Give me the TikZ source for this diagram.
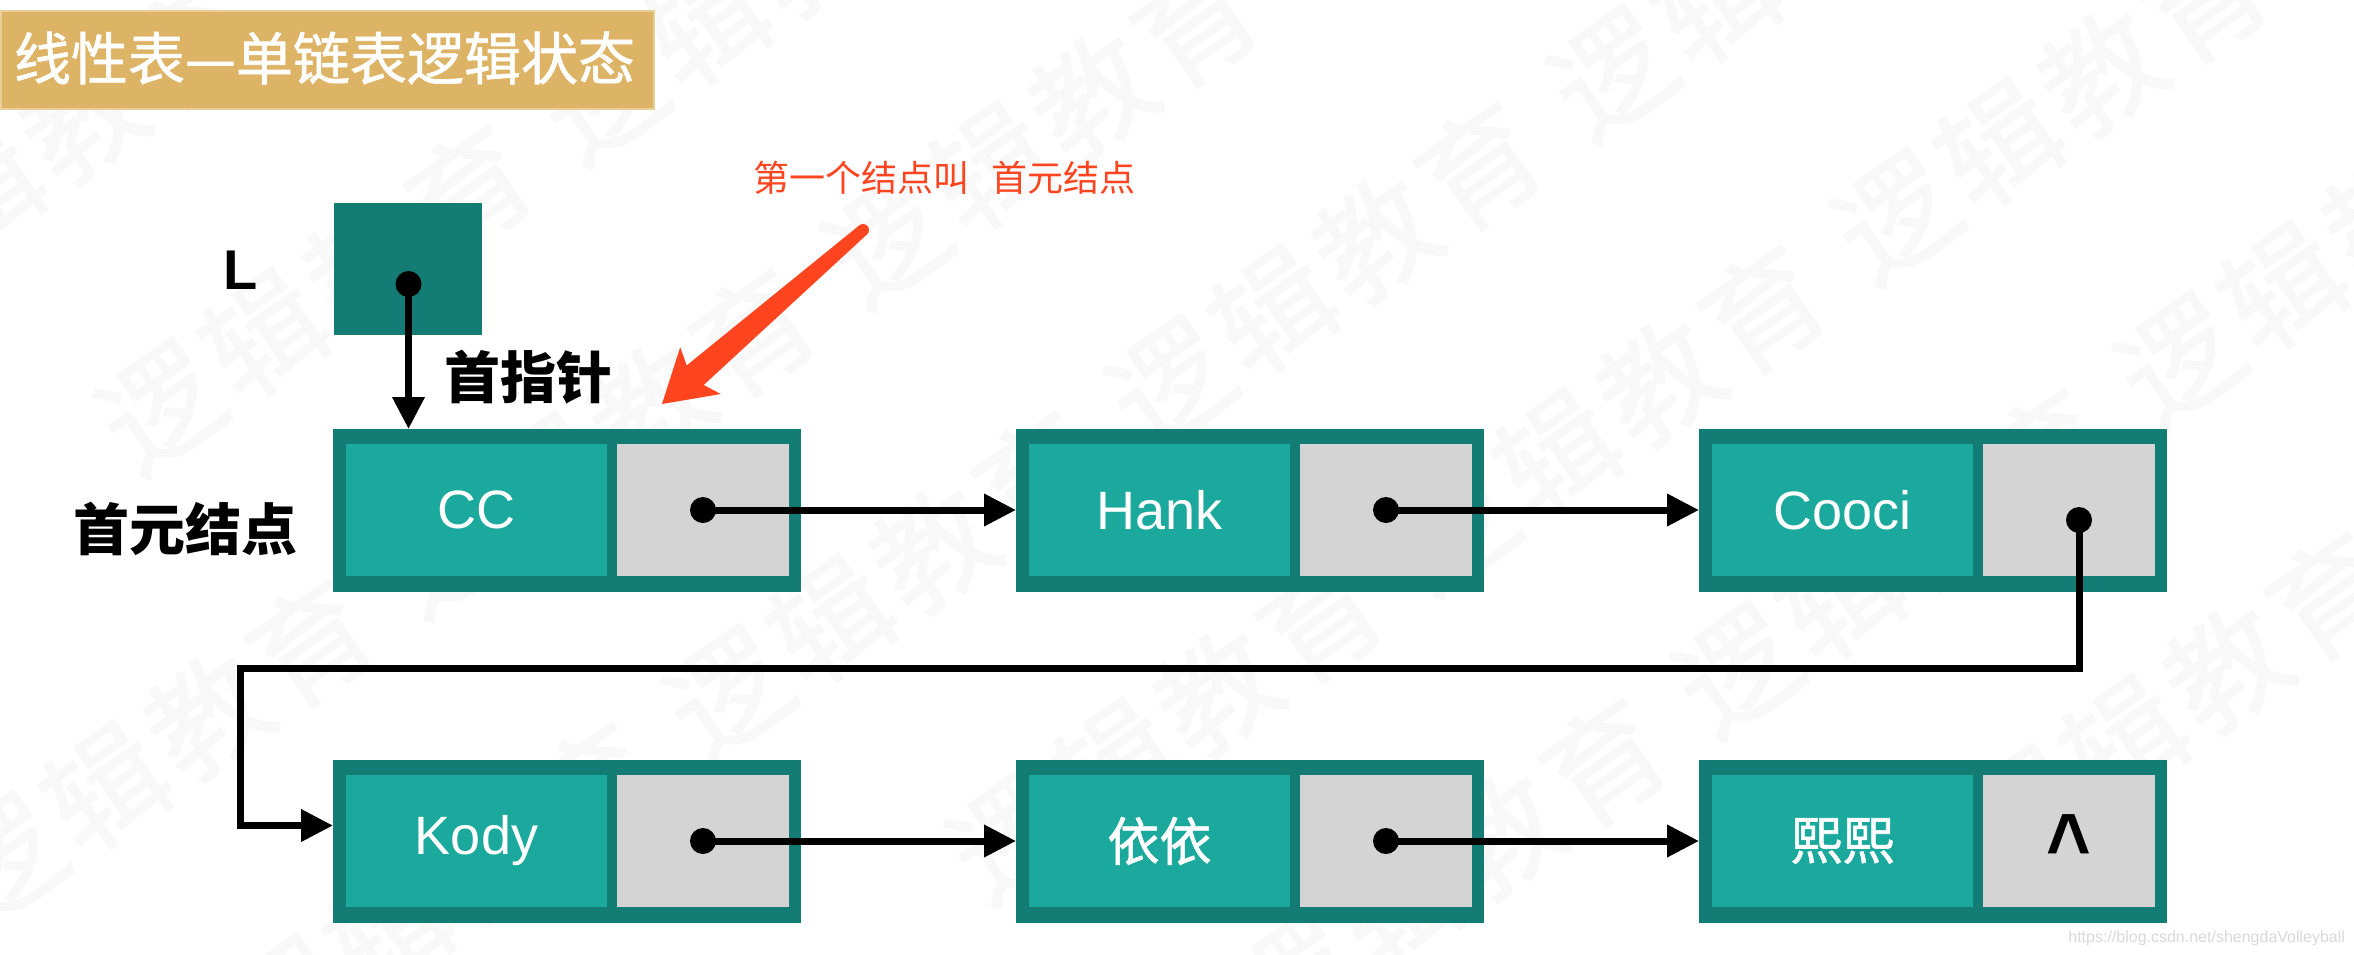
\documentclass[tikz,border=0pt]{standalone}
\usepackage{fontspec}
\setmainfont{Liberation Sans}
\newfontfamily\cjk{Noto Sans CJK SC}
\newfontfamily\cjkm[FakeBold=1.2]{Noto Sans CJK SC}
\usetikzlibrary{arrows.meta,calc}
\definecolor{dteal}{HTML}{137C74}
\definecolor{lteal}{HTML}{1AA99C}
\definecolor{cellgray}{HTML}{D4D4D4}
\definecolor{gold}{HTML}{DDB366}
\definecolor{goldedge}{HTML}{E9CE98}
\definecolor{redann}{HTML}{FF4520}
\definecolor{wmark}{HTML}{F8F8F8}
\newcommand\fs[1]{\fontsize{#1}{#1}\selectfont}
\newcommand\mkcell[4]{%
  \node[outerbox] (#1) at (#2,#3) {};
  \node[databox] (#1d) at (#2+13,#3+15) {#4};
  \node[ptrbox] (#1p) at (#2+284,#3+15) {};
}
\begin{document}
\begin{tikzpicture}[x=1pt,y=-1pt,
  outerbox/.style={fill=dteal, draw=none, anchor=north west, minimum width=468pt, minimum height=163pt, inner sep=0pt, outer sep=0pt},
  databox/.style={fill=lteal, anchor=north west, minimum width=261pt, minimum height=132pt, inner sep=0pt, outer sep=0pt, text=white, font=\fs{54}},
  ptrbox/.style={fill=cellgray, anchor=north west, minimum width=172pt, minimum height=132pt, inner sep=0pt, outer sep=0pt},
  conn/.style={line width=7pt, -{Triangle[length=32pt,width=31pt]}},
  dotmark/.style={circle, fill=black, minimum size=26pt, inner sep=0pt, outer sep=0pt},
  lab/.style={inner sep=0pt, outer sep=0pt}]
\useasboundingbox (0,0) rectangle (2354,954);
\fill[white] (0,0) rectangle (2354,954);
% watermark
\begin{scope}
\clip (0,0) rectangle (2354,954);
\foreach \j in {-4,...,4}{
  \foreach \i in {-5,...,5}{
    \pgfmathsetmacro\wx{2050+\i*540*0.819+\j*(280*0.574+150*0.819)}
    \pgfmathsetmacro\wy{108-\i*540*0.574+\j*(280*0.819-150*0.574)}
    \pgfmathtruncatemacro\inside{and(and(\wx>-40,\wx<2394),and(\wy>-40,\wy<994))}
    \ifnum\inside=1
      \node[lab, rotate=35, text=wmark, font=\cjkm\fs{118}] (wm\i\j) at (\wx,\wy) {逻\hspace{8pt}辑\hspace{8pt}教\hspace{8pt}育};
    \fi
  }
}
\end{scope}
% title banner
\node[fill=gold, draw=goldedge, line width=2pt, anchor=north west, minimum width=653pt, minimum height=98pt, inner sep=0pt] (banner) at (0,10) {};
\node[lab, anchor=west, text=white, font=\cjkm\fs{57}] (title) at (14,58) {线性表—单链表逻辑状态};
% head pointer
\node[fill=dteal, anchor=north west, minimum width=148pt, minimum height=132pt, inner sep=0pt] (Lbox) at (334,203) {};
\node[dotmark] (Ldot) at (408.5,284) {};
\node[lab, font=\bfseries\fs{56}] (Llab) at (240.5,270) {L};
\node[lab, font=\cjk\bfseries\fs{56}] (ptrlab) at (528.5,377) {首指针};
\node[lab, font=\cjk\bfseries\fs{56}] (firstlab) at (185,528.5) {首元结点};
% list nodes
\mkcell{n1}{333}{429}{CC}
\mkcell{n2}{1016}{429}{Hank}
\mkcell{n3}{1699}{429}{Cooci}
\mkcell{n4}{333}{760}{Kody}
\mkcell{n5}{1016}{760}{{\cjkm\fs{52}依依}}
\mkcell{n6}{1699}{760}{{\cjkm\fs{52}熙熙}}
\node[dotmark] (p1) at (n1p.center) {};
\node[dotmark] (p2) at (n2p.center) {};
\node[dotmark] (p3) at ([shift={(10,10)}]n3p.center) {};
\node[dotmark] (p4) at (n4p.center) {};
\node[dotmark] (p5) at (n5p.center) {};
\node[lab, font=\bfseries\fs{90}] (nil) at ([yshift=-5pt]n6p.center) {\scalebox{0.85}[1]{\textasciicircum}};
% connectors
\coordinate (bend) at (240,668);
\draw[conn] (Ldot.center) -- (Ldot.center |- n1.north);
\draw[conn] (p1.center) -- (p1.center -| n2.west);
\draw[conn] (p2.center) -- (p2.center -| n3.west);
\draw[conn] (p3.center) |- (bend) |- ([yshift=16pt]n4.west);
\draw[conn] (p4.center) -- (p4.center -| n5.west);
\draw[conn] (p5.center) -- (p5.center -| n6.west);
% annotation
\node[lab, anchor=west, text=redann, font=\cjk\fs{36}] (note) at (753,177.5) {第一个结点叫\hspace{22pt}首元结点};
\fill[redann] (866.9,234.5) -- (703.7,385.0) -- (720.8,394.0) -- (662,404) -- (680.2,347.2) -- (686.7,365.4) -- (859.1,225.5) -- cycle;
\fill[redann] (863,230) circle[radius=6];
% url
\node[lab, anchor=base east, font=\fs{16}, text=black!15] (url) at (2345,942) {https://blog.csdn.net/shengdaVolleyball};
\end{tikzpicture}
\end{document}
